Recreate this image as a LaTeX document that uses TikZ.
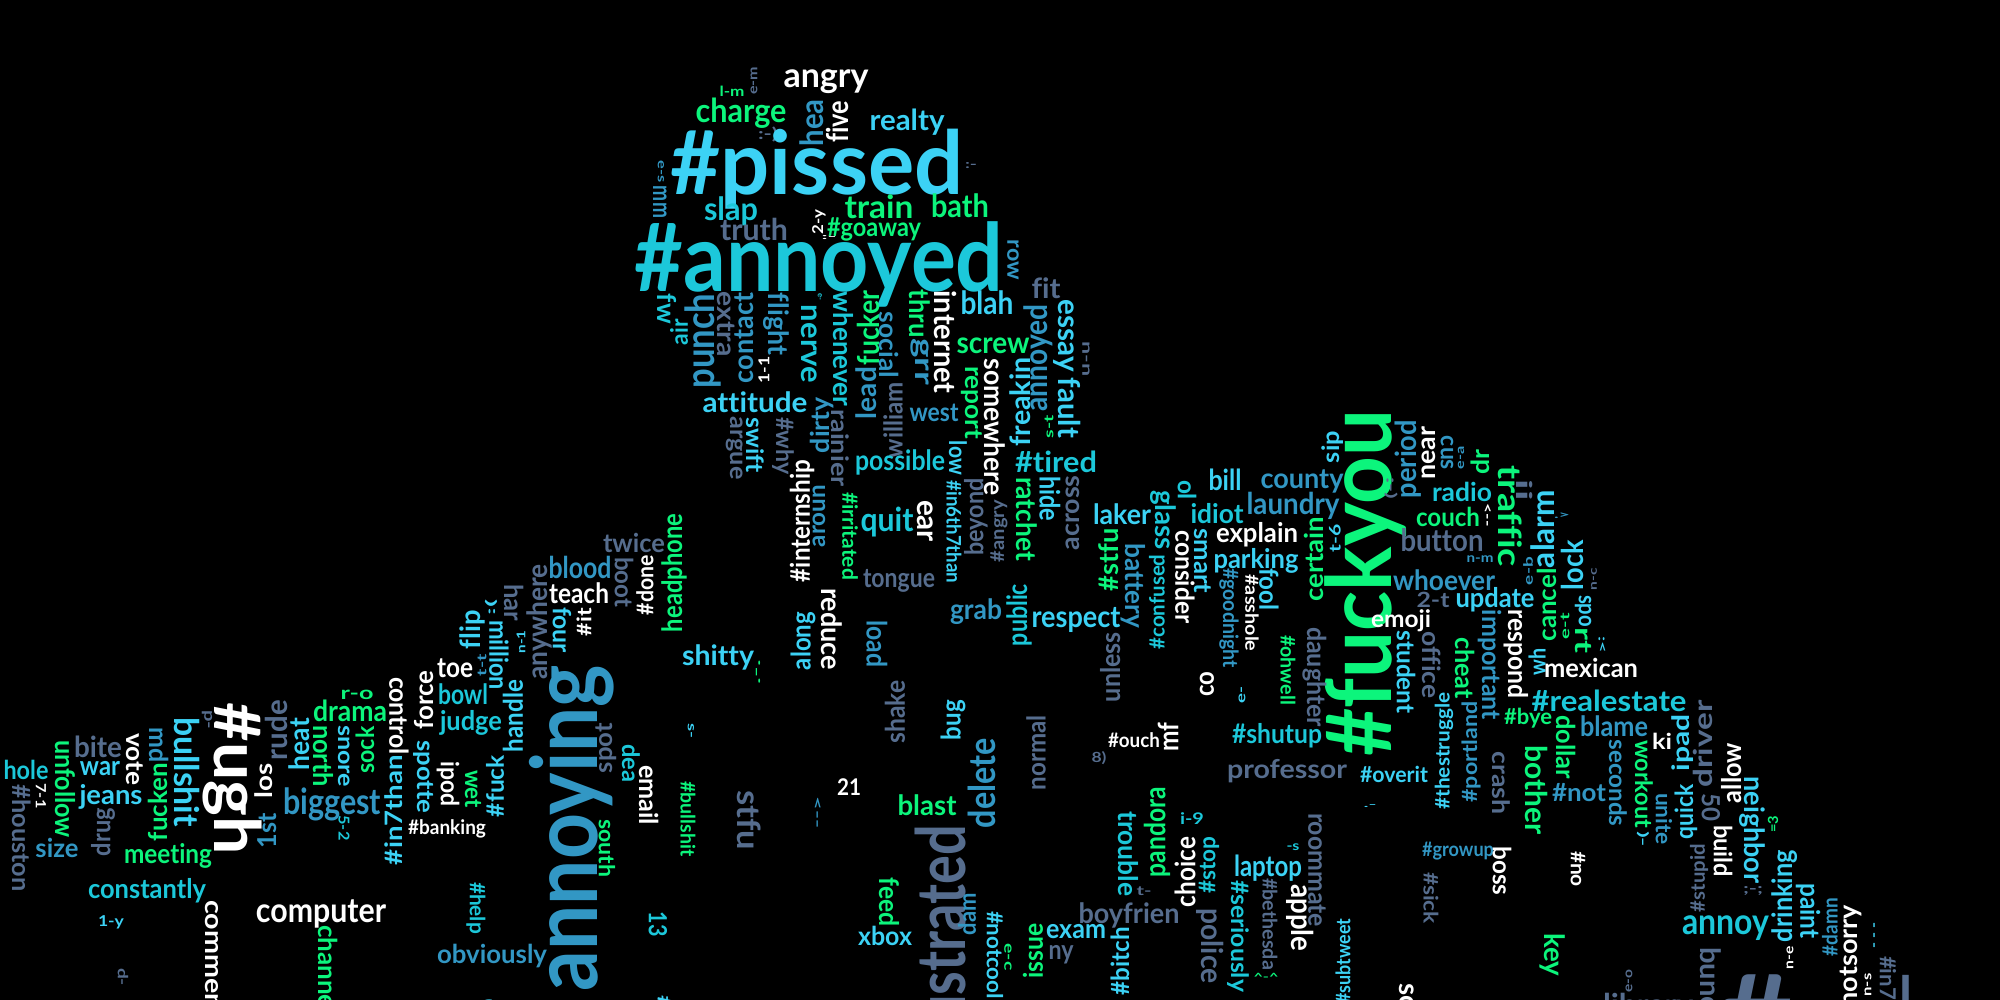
\documentclass[tikz,border=0pt]{standalone}
\usepackage{graphicx}
\usepackage{fontspec}
\setmainfont[Ligatures=NoCommon]{Lato}
\definecolor{Wh}{HTML}{FFFFFF}
\definecolor{Gr}{HTML}{0CF57C}
\definecolor{Cy}{HTML}{1CC8DA}
\definecolor{Sk}{HTML}{3CD2F5}
\definecolor{Bl}{HTML}{3297C4}
\definecolor{Sl}{HTML}{566D8E}
\newcounter{wordno}
\newcommand\W[7]{%
  \stepcounter{wordno}%
  \node[wordnode,text=#6,rotate=#5] (w\thewordno) at (#1,-#2) {\resizebox{#3pt}{\height}{\fontsize{#4}{#4}\selectfont\bfseries #7}};%
}
\tikzset{wordnode/.style={inner sep=0pt,outer sep=0pt}}
\begin{document}
\begin{tikzpicture}[x=1pt,y=1pt]
\fill[black] (0,0) rectangle (2000,-1000);
\useasboundingbox (0,0) rectangle (2000,-1000);
\clip (0,0) rectangle (2000,-1000);
\W{826}{82}{85}{34}{0}{Wh}{angry}
\W{732}{91}{25}{14}{0}{Gr}{l-m}
\W{754}{81}{28}{13}{90}{Sl}{e-m}
\W{741}{113}{91}{33}{0}{Gr}{charge}
\W{812}{123}{47}{32}{90}{Bl}{hea}
\W{837}{122}{42}{30}{90}{Wh}{five}
\W{907}{122}{75}{29}{0}{Sk}{realty}
\W{768}{134}{20}{16}{0}{Sl}{:-)}
\W{817}{169}{293}{88}{0}{Sk}{\#pissed}
\W{971}{166}{12}{12}{0}{Sl}{:-}
\W{661}{172}{22}{12}{-90}{Bl}{e-s}
\W{660}{202}{32}{26}{-90}{Bl}{mm}
\W{731}{211}{54}{32}{0}{Cy}{slap}
\W{879}{207}{69}{32}{0}{Gr}{train}
\W{960}{206}{58}{32}{0}{Gr}{bath}
\W{754}{229}{68}{30}{0}{Sl}{truth}
\W{819}{222}{25}{15}{90}{Wh}{2-y}
\W{829}{238}{15}{8}{0}{Wh}{:-}
\W{874}{229}{94}{26}{0}{Gr}{\#goaway}
\W{819}{264}{369}{94}{0}{Cy}{\#annoyed}
\W{1013}{260}{40}{22}{-90}{Bl}{row}
\W{1046}{288}{29}{28}{0}{Sl}{fit}
\W{667}{309}{30}{26}{-90}{Cy}{fw}
\W{679}{332}{26}{24}{90}{Cy}{air}
\W{703}{341}{95}{40}{90}{Bl}{punch}
\W{726}{324}{65}{26}{-90}{Sl}{extra}
\W{744}{338}{90}{28}{90}{Bl}{contact}
\W{776}{324}{62}{28}{-90}{Bl}{flight}
\W{764}{370}{27}{15}{90}{Wh}{1-1}
\W{809}{344}{78}{30}{-90}{Cy}{nerve}
\W{820}{297}{7}{8}{-90}{Cy}{e-}
\W{843}{349}{115}{27}{-90}{Cy}{whenever}
\W{868}{328}{75}{30}{90}{Gr}{fucker}
\W{866}{393}{52}{28}{90}{Bl}{lead}
\W{889}{345}{66}{26}{-90}{Bl}{social}
\W{893}{420}{76}{26}{90}{Sl}{william}
\W{920}{314}{48}{28}{-90}{Gr}{thru}
\W{920}{362}{47}{26}{-90}{Bl}{grr}
\W{945}{342}{103}{30}{-90}{Wh}{internet}
\W{987}{303}{53}{32}{0}{Sk}{blah}
\W{993}{346}{73}{30}{0}{Gr}{screw}
\W{1038}{358}{107}{32}{90}{Bl}{annoyed}
\W{1064}{336}{72}{30}{-90}{Sk}{essay}
\W{1070}{408}{60}{30}{-90}{Sk}{fault}
\W{1086}{359}{35}{14}{-90}{Sl}{n-n}
\W{972}{403}{73}{25}{-90}{Gr}{report}
\W{755}{402}{105}{28}{0}{Sk}{attitude}
\W{934}{413}{49}{26}{0}{Bl}{west}
\W{822}{425}{56}{26}{90}{Bl}{dirty}
\W{840}{448}{77}{24}{-90}{Sl}{rainier}
\W{735}{448}{63}{24}{-90}{Sl}{argue}
\W{755}{445}{55}{24}{-90}{Sk}{swift}
\W{783}{446}{57}{24}{-90}{Sl}{\#why}
\W{995}{427}{137}{28}{-90}{Wh}{somewhere}
\W{1020}{402}{89}{28}{90}{Sk}{freakin}
\W{1049}{427}{23}{13}{90}{Gr}{s-t}
\W{900}{462}{90}{28}{0}{Cy}{possible}
\W{958}{458}{34}{24}{-90}{Sk}{low}
\W{1056}{462}{82}{29}{0}{Cy}{\#tired}
\W{802}{521}{122}{27}{90}{Wh}{\#internship}
\W{819}{516}{62}{24}{90}{Bl}{aroun}
\W{850}{536}{88}{21}{-90}{Gr}{\#irritated}
\W{887}{522}{53}{33}{0}{Cy}{quit}
\W{925}{521}{42}{30}{-90}{Wh}{ear}
\W{954}{532}{103}{20}{-90}{Sk}{\#in6th7than}
\W{976}{517}{77}{26}{90}{Sl}{beyond}
\W{999}{531}{62}{19}{90}{Sl}{\#angry}
\W{1027}{519}{84}{28}{-90}{Gr}{ratchet}
\W{1050}{499}{45}{28}{-90}{Sk}{hide}
\W{1073}{513}{75}{26}{90}{Sl}{across}
\W{899}{581}{72}{27}{0}{Sl}{tongue}
\W{832}{629}{82}{28}{-90}{Wh}{reduce}
\W{803}{641}{58}{27}{90}{Sk}{along}
\W{877}{644}{47}{28}{-90}{Bl}{load}
\W{976}{612}{52}{28}{0}{Bl}{grab}
\W{1019}{615}{62}{28}{90}{Cy}{public}
\W{1076}{620}{89}{30}{0}{Sk}{respect}
\W{718}{657}{72}{28}{0}{Sk}{shitty}
\W{674}{573}{118}{28}{90}{Gr}{headphone}
\W{645}{585}{60}{23}{90}{Wh}{\#done}
\W{634}{543}{62}{26}{0}{Sl}{twice}
\W{580}{567}{63}{30}{0}{Bl}{blood}
\W{624}{582}{50}{25}{-90}{Sl}{boot}
\W{579}{593}{60}{28}{0}{Wh}{teach}
\W{539}{622}{115}{28}{90}{Sl}{anywhere}
\W{562}{630}{46}{25}{-90}{Sk}{four}
\W{584}{622}{28}{20}{90}{Wh}{\#it}
\W{514}{603}{37}{26}{-90}{Sl}{har}
\W{491}{607}{16}{13}{90}{Sk}{:(}
\W{499}{655}{70}{26}{-90}{Sk}{million}
\W{521}{642}{23}{12}{90}{Sk}{n-1}
\W{472}{630}{39}{28}{90}{Sk}{flip}
\W{482}{665}{22}{13}{90}{Bl}{t-t}
\W{455}{668}{36}{28}{0}{Wh}{toe}
\W{463}{694}{50}{28}{0}{Cy}{bowl}
\W{471}{723}{62}{27}{0}{Cy}{judge}
\W{513}{716}{72}{27}{90}{Sk}{handle}
\W{572}{828}{326}{92}{90}{Bl}{annoying}
\W{606}{748}{50}{25}{90}{Sl}{spot}
\W{607}{848}{58}{22}{-90}{Gr}{south}
\W{631}{763}{38}{24}{-90}{Cy}{dea}
\W{649}{795}{60}{26}{-90}{Wh}{email}
\W{688}{819}{75}{20}{-90}{Gr}{\#bullshit}
\W{691}{731}{15}{12}{-90}{Sk}{s-}
\W{749}{820}{60}{32}{-90}{Sl}{stfu}
\W{849}{787}{24}{23}{0}{Wh}{21}
\W{817}{812}{32}{13}{-90}{Bl}{<-{}-}
\W{658}{924}{25}{25}{-90}{Cy}{13}
\W{927}{805}{59}{28}{0}{Gr}{blast}
\W{889}{902}{49}{27}{-90}{Gr}{feed}
\W{885}{936}{54}{26}{0}{Sk}{xbox}
\W{940}{945}{240}{68}{90}{Sl}{frustrated}
\W{895}{712}{63}{27}{90}{Sl}{shake}
\W{953}{720}{40}{27}{90}{Sk}{bug}
\W{982}{783}{90}{37}{90}{Bl}{delete}
\W{1036}{753}{75}{26}{90}{Sl}{normal}
\W{1099}{758}{15}{14}{0}{Sl}{8)}
\W{1134}{740}{52}{20}{0}{Wh}{\#ouch}
\W{1168}{737}{29}{28}{90}{Wh}{mf}
\W{1207}{684}{25}{27}{90}{Wh}{co}
\W{967}{914}{42}{24}{90}{Bl}{dam}
\W{995}{955}{88}{22}{-90}{Sk}{\#notcool}
\W{1008}{957}{27}{14}{-90}{Gr}{e-c}
\W{1033}{951}{55}{27}{90}{Gr}{issue}
\W{1076}{932}{60}{27}{0}{Sk}{exam}
\W{1061}{955}{25}{27}{0}{Sl}{ny}
\W{1129}{915}{101}{28}{0}{Sl}{boyfrien}
\W{1128}{854}{85}{27}{-90}{Cy}{trouble}
\W{1144}{891}{15}{13}{0}{Sl}{t-}
\W{1157}{832}{90}{29}{90}{Gr}{pandora}
\W{1192}{819}{24}{16}{0}{Cy}{i-9}
\W{1185}{872}{70}{28}{90}{Wh}{choice}
\W{1209}{865}{57}{23}{90}{Cy}{\#stop}
\W{1210}{946}{75}{30}{-90}{Sl}{police}
\W{1238}{936}{112}{24}{-90}{Cy}{\#seriously}
\W{1293}{847}{13}{13}{0}{Cy}{-s}
\W{1268}{868}{68}{29}{0}{Sk}{laptop}
\W{1270}{924}{92}{20}{-90}{Sl}{\#bethesda}
\W{1266}{977}{25}{10}{0}{Gr}{\textasciicircum-\textasciicircum}
\W{1300}{918}{67}{30}{-90}{Wh}{apple}
\W{1317}{870}{114}{26}{-90}{Sl}{roommate}
\W{1120}{961}{68}{25}{90}{Sk}{\#bitch}
\W{1343}{961}{85}{20}{90}{Sk}{\#subtweet}
\W{1407}{997}{28}{28}{-90}{Wh}{so}
\W{1394}{774}{68}{22}{0}{Sk}{\#overit}
\W{1277}{736}{90}{27}{0}{Cy}{\#shutup}
\W{1287}{771}{120}{26}{0}{Sl}{professor}
\W{1370}{806}{13}{8}{0}{Sk}{.-}
\W{1458}{851}{72}{20}{0}{Bl}{\#growup}
\W{1431}{898}{52}{20}{-90}{Sl}{\#sick}
\W{1502}{871}{49}{25}{-90}{Wh}{boss}
\W{1578}{869}{36}{20}{-90}{Wh}{\#no}
\W{1553}{955}{43}{28}{-90}{Gr}{key}
\W{1444}{751}{117}{20}{90}{Sk}{\#thestruggle}
\W{1471}{752}{101}{21}{90}{Bl}{\#portland}
\W{1501}{783}{63}{24}{-90}{Sl}{crash}
\W{1537}{790}{89}{30}{-90}{Gr}{bother}
\W{1566}{747}{64}{26}{-90}{Gr}{dollar}
\W{1579}{793}{54}{25}{0}{Bl}{\#not}
\W{1618}{783}{87}{24}{-90}{Bl}{seconds}
\W{1644}{784}{88}{24}{-90}{Gr}{workout}
\W{1643}{839}{16}{13}{-90}{Sk}{)-}
\W{1664}{819}{52}{22}{-90}{Bl}{unite}
\W{1662}{741}{20}{22}{0}{Wh}{ki}
\W{1686}{812}{55}{25}{90}{Sk}{quick}
\W{1683}{743}{57}{24}{90}{Sk}{ipad}
\W{1703}{744}{87}{26}{90}{Sl}{driver}
\W{1711}{807}{28}{25}{-90}{Sl}{50}
\W{1732}{773}{60}{27}{90}{Wh}{allow}
\W{1723}{851}{52}{25}{-90}{Wh}{build}
\W{1752}{830}{107}{28}{-90}{Sk}{neighbor}
\W{1773}{824}{17}{14}{90}{Gr}{=3}
\W{1699}{878}{68}{20}{90}{Sl}{\#stupid}
\W{1753}{891}{20}{14}{0}{Sl}{;-;}
\W{1726}{928}{87}{36}{0}{Cy}{annoy}
\W{1785}{896}{92}{28}{90}{Sk}{drinking}
\W{1808}{911}{55}{27}{-90}{Sk}{paint}
\W{1830}{927}{58}{21}{90}{Bl}{\#damn}
\W{1850}{964}{118}{26}{90}{Wh}{\#notsorry}
\W{1790}{958}{23}{13}{90}{Wh}{n-e}
\W{1868}{985}{23}{13}{90}{Wh}{n-s}
\W{1876}{935}{26}{14}{90}{Sk}{- - -}
\W{1888}{978}{44}{22}{-90}{Sl}{\#in7}
\W{1711}{987}{80}{28}{-90}{Sl}{bunch}
\W{1755}{1018}{75}{120}{0}{Sl}{\#}
\W{1906}{1020}{13}{120}{0}{Sl}{l}
\W{1648}{1007}{90}{30}{0}{Sl}{library}
\W{1629}{981}{23}{13}{90}{Sl}{e-o}
\W{26}{770}{45}{26}{0}{Cy}{hole}
\W{22}{838}{107}{25}{-90}{Sl}{\#houston}
\W{41}{796}{25}{14}{-90}{Wh}{7-1}
\W{57}{848}{43}{26}{0}{Bl}{size}
\W{65}{789}{98}{27}{-90}{Gr}{unfollow}
\W{98}{747}{48}{29}{0}{Sl}{bite}
\W{100}{769}{40}{27}{0}{Sk}{war}
\W{111}{797}{63}{27}{0}{Sk}{jeans}
\W{103}{832}{48}{26}{90}{Sl}{drug}
\W{135}{759}{52}{25}{-90}{Wh}{vote}
\W{159}{745}{35}{26}{-90}{Bl}{md}
\W{158}{802}{78}{26}{90}{Gr}{fucken}
\W{187}{772}{110}{34}{-90}{Sk}{bullshit}
\W{207}{720}{19}{15}{-90}{Sl}{p-}
\W{232}{779}{152}{64}{-90}{Wh}{\#ugh}
\W{168}{856}{88}{27}{0}{Gr}{meeting}
\W{264}{781}{35}{24}{90}{Wh}{los}
\W{267}{831}{35}{26}{90}{Bl}{1st}
\W{276}{730}{60}{30}{90}{Sl}{rude}
\W{299}{744}{52}{28}{90}{Sk}{heat}
\W{323}{756}{62}{27}{-90}{Gr}{north}
\W{350}{711}{74}{29}{0}{Gr}{drama}
\W{357}{695}{33}{18}{0}{Gr}{r-o}
\W{344}{756}{62}{22}{-90}{Sk}{snore}
\W{365}{750}{47}{25}{90}{Gr}{sock}
\W{344}{828}{25}{15}{-90}{Cy}{5-2}
\W{332}{804}{98}{36}{0}{Bl}{biggest}
\W{399}{716}{78}{26}{-90}{Wh}{control}
\W{394}{810}{110}{24}{90}{Sk}{\#in7than}
\W{424}{700}{59}{26}{90}{Wh}{force}
\W{424}{777}{73}{24}{-90}{Sk}{spotte}
\W{448}{784}{45}{25}{-90}{Wh}{ipod}
\W{473}{789}{38}{24}{-90}{Gr}{wet}
\W{495}{786}{62}{24}{90}{Sk}{\#fuck}
\W{447}{829}{78}{20}{0}{Wh}{\#banking}
\W{476}{908}{52}{21}{-90}{Cy}{\#help}
\W{492}{956}{110}{26}{0}{Bl}{obviously}
\W{147}{891}{118}{27}{0}{Cy}{constantly}
\W{111}{922}{26}{15}{0}{Sk}{1-y}
\W{214}{960}{120}{25}{-90}{Wh}{comment}
\W{321}{914}{130}{34}{0}{Wh}{computer}
\W{328}{970}{90}{26}{-90}{Gr}{channel}
\W{123}{977}{18}{14}{-90}{Sl}{d-}
\W{665}{1003}{15}{20}{90}{Sk}{\#}
\W{485}{1009}{14}{24}{0}{Sk}{f}
\W{1333}{447}{32}{24}{90}{Sk}{sip}
\W{1366}{583}{347}{90}{90}{Gr}{\#fuckyou}
\W{1408}{459}{78}{29}{90}{Bl}{period}
\W{1429}{453}{53}{26}{90}{Wh}{near}
\W{1447}{453}{34}{24}{-90}{Bl}{cus}
\W{1461}{458}{23}{12}{90}{Bl}{e-a}
\W{1480}{462}{25}{25}{90}{Gr}{dr}
\W{1510}{516}{102}{32}{-90}{Gr}{traffic}
\W{1525}{490}{21}{22}{-90}{Sl}{ii}
\W{1543}{529}{78}{32}{90}{Sk}{alarm}
\W{1562}{516}{16}{10}{0}{Bl}{.>}
\W{1572}{565}{50}{30}{90}{Sk}{lock}
\W{1594}{579}{22}{11}{90}{Sl}{n-c}
\W{1462}{492}{60}{26}{0}{Cy}{radio}
\W{1448}{517}{64}{26}{0}{Gr}{couch}
\W{1487}{515}{23}{14}{-90}{Wh}{<-{}-}
\W{1442}{540}{83}{31}{0}{Sl}{button}
\W{1391}{488}{22}{14}{-90}{Sl}{:-)}
\W{1480}{559}{27}{13}{0}{Bl}{n-m}
\W{1528}{571}{28}{13}{90}{Bl}{e-b}
\W{1444}{580}{102}{28}{0}{Bl}{whoever}
\W{1433}{600}{33}{21}{0}{Sl}{2-t}
\W{1495}{600}{79}{27}{0}{Sk}{update}
\W{1547}{605}{73}{26}{90}{Gr}{cancel}
\W{1401}{621}{60}{24}{0}{Wh}{emoji}
\W{1406}{672}{83}{25}{-90}{Sk}{student}
\W{1432}{665}{67}{25}{-90}{Sl}{office}
\W{1465}{668}{62}{26}{-90}{Gr}{cheat}
\W{1490}{665}{110}{26}{-90}{Bl}{important}
\W{1516}{654}{89}{27}{-90}{Wh}{respond}
\W{1537}{662}{27}{23}{90}{Sk}{wh}
\W{1565}{626}{26}{13}{90}{Gr}{e-t}
\W{1583}{611}{32}{24}{-90}{Sk}{spo}
\W{1583}{640}{26}{24}{-90}{Gr}{rt}
\W{1602}{645}{17}{12}{-90}{Sk}{:<}
\W{1591}{668}{94}{26}{0}{Wh}{mexican}
\W{1609}{701}{155}{29}{0}{Cy}{\#realestate}
\W{1528}{718}{48}{22}{0}{Gr}{\#bye}
\W{1614}{726}{68}{28}{0}{Bl}{blame}
\W{1335}{538}{28}{16}{90}{Sk}{t-6}
\W{1302}{481}{83}{28}{0}{Bl}{county}
\W{1293}{506}{93}{30}{0}{Bl}{laundry}
\W{1225}{480}{33}{29}{0}{Sk}{bill}
\W{1187}{490}{20}{25}{-90}{Cy}{ol}
\W{1163}{520}{60}{28}{-90}{Cy}{glass}
\W{1217}{514}{53}{27}{0}{Cy}{idiot}
\W{1122}{514}{58}{28}{0}{Sk}{laker}
\W{1257}{535}{82}{27}{0}{Wh}{explain}
\W{1256}{561}{85}{27}{0}{Sk}{parking}
\W{1314}{559}{85}{26}{90}{Gr}{certain}
\W{1185}{577}{93}{26}{-90}{Wh}{consider}
\W{1203}{561}{65}{25}{-90}{Sk}{smart}
\W{1229}{618}{100}{21}{-90}{Bl}{\#goodnight}
\W{1252}{613}{77}{18}{-90}{Wh}{\#asshole}
\W{1269}{589}{42}{26}{-90}{Sk}{fool}
\W{1109}{560}{63}{27}{90}{Gr}{\#stfu}
\W{1133}{586}{85}{27}{-90}{Bl}{battery}
\W{1157}{602}{95}{21}{90}{Cy}{\#confused}
\W{1111}{667}{70}{27}{90}{Sl}{unless}
\W{1242}{695}{17}{13}{90}{Sk}{e-}
\W{1288}{670}{70}{20}{-90}{Gr}{\#ohwell}
\W{1315}{677}{100}{26}{-90}{Sl}{daughter}
\W{758}{672}{24}{12}{90}{Gr}{.-.}
\end{tikzpicture}
\end{document}
